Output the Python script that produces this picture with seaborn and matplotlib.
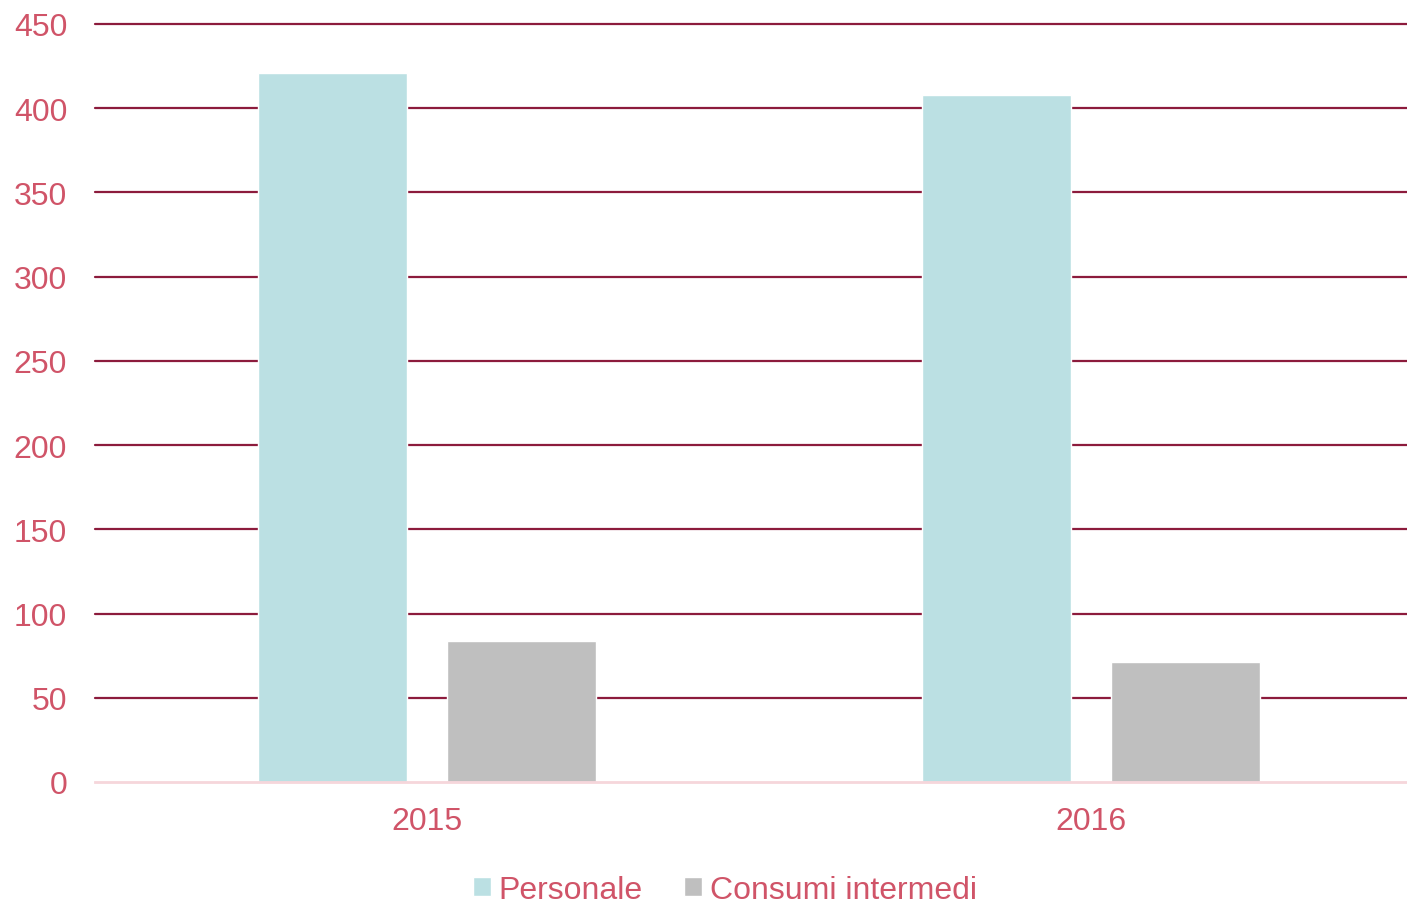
"""Personale vs consumi intermedi, 2015-2016."""

import matplotlib

matplotlib.use("Agg")

import matplotlib.pyplot as plt
import pandas as pd
import seaborn as sns

YEARS = ["2015", "2016"]
SERIES = ["Personale", "Consumi intermedi"]
PERSONALE = [421, 408]
CONSUMI = [84, 71]
Y_TICKS = [0, 50, 100, 150, 200, 250, 300, 350, 400, 450]

TEXT_COLOR = "#D05468"
GRID_COLOR = "#8C1B3C"
BASE_COLOR = "#F6D6DB"
PALETTE = {"Personale": "#BBE0E3", "Consumi intermedi": "#BFBFBF"}

df = pd.DataFrame(
    {
        "year": YEARS * 2,
        "series": [SERIES[0]] * len(YEARS) + [SERIES[1]] * len(YEARS),
        "value": PERSONALE + CONSUMI,
    }
)

sns.set_style("white")
plt.rcParams["font.family"] = ["Liberation Sans", "DejaVu Sans"]

fig = plt.figure(figsize=(14.07, 9.04), dpi=100)
ax = fig.add_axes([95 / 1407, 1 - 783 / 904, 1328 / 1407, 758 / 904])

sns.barplot(
    data=df, x="year", y="value", hue="series", hue_order=SERIES,
    palette=PALETTE, width=0.57, gap=0.21, saturation=1, ax=ax, zorder=3,
)

ax.set_ylim(0, 450)
ax.set_yticks(Y_TICKS)
ax.set_xlim(-0.5, 1.5)
ax.yaxis.grid(True, color=GRID_COLOR, linewidth=1.6)
ax.set_axisbelow(True)
for spine in ["top", "right", "left"]:
    ax.spines[spine].set_visible(False)
ax.spines["bottom"].set_color(BASE_COLOR)
ax.spines["bottom"].set_linewidth(2)
ax.spines["bottom"].set_zorder(4)
ax.tick_params(axis="both", length=0, labelsize=23, labelcolor=TEXT_COLOR)
ax.tick_params(axis="y", pad=20)
ax.tick_params(axis="x", pad=17)
ax.set_xlabel("")
ax.set_ylabel("")

# keep the 0 gridline hidden under the pale baseline, top one unclipped
gridlines = ax.get_ygridlines()
gridlines[0].set_visible(False)
for line in gridlines:
    line.set_clip_on(False)

handles, labels = ax.get_legend_handles_labels()
ax.legend_.remove()
fig.legend(
    handles, labels, loc="center", bbox_to_anchor=(725 / 1407, 1 - 891 / 904),
    ncol=2, frameon=False, fontsize=23, labelcolor=TEXT_COLOR,
    handlelength=0.55, handleheight=0.55, handletextpad=0.25, columnspacing=1.3,
)

fig.savefig("out.png", dpi=100)
